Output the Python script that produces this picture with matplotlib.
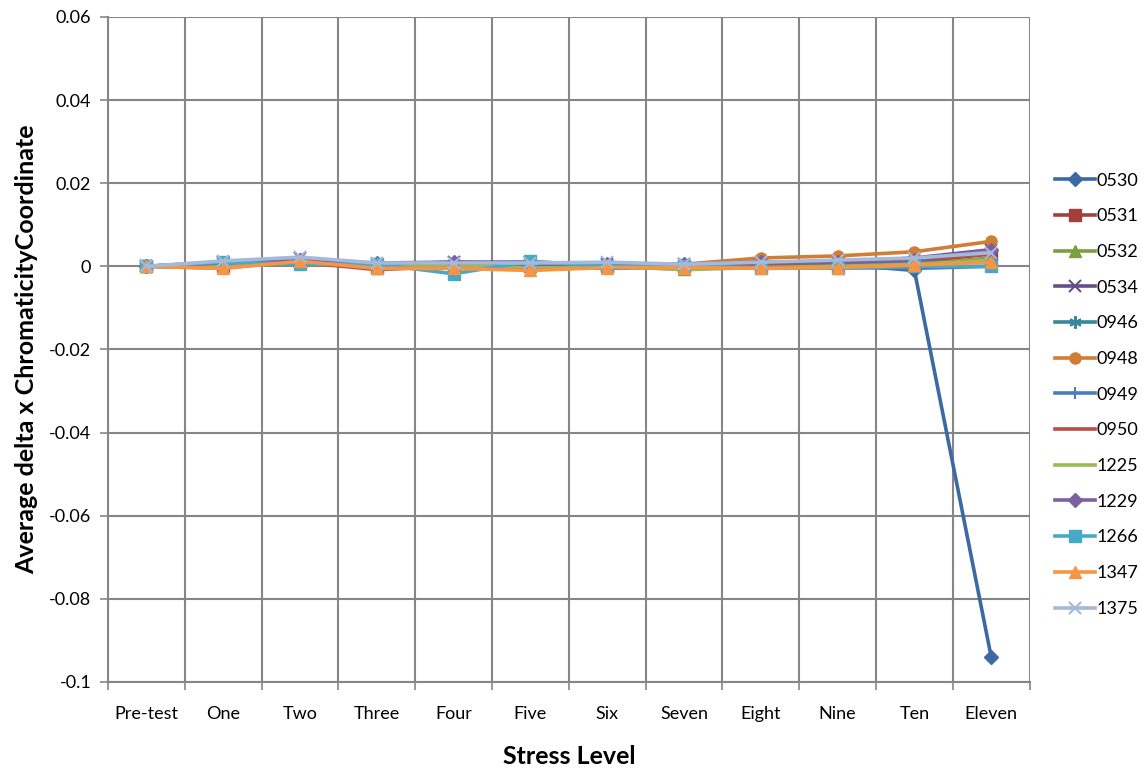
import matplotlib.pyplot as plt
from matplotlib.ticker import FixedLocator

plt.rcParams["font.family"] = ["Lato", "DejaVu Sans"]

levels = ["Pre-test", "One", "Two", "Three", "Four", "Five", "Six",
          "Seven", "Eight", "Nine", "Ten", "Eleven"]

s0530 = [0, 0.0005, 0.0015, 0, 0.0005, 0, 0, 0, 0, 0.0005, -0.001, -0.0940]
s0531 = [0, 0, 0.001, -0.0005, 0, 0, 0, 0, 0.0005, 0.001, 0.001, 0.003]
s0532 = [0, 0, 0.001, 0, 0, 0, 0, -0.0007, 0, 0.0005, 0.0005, 0.002]
s0534 = [0, 0.001, 0.002, 0.0005, 0.001, 0.001, 0.0005, 0.0005, 0.001, 0.001, 0.002, 0.004]
s0946 = [0, 0.001, 0.0015, 0.0005, 0.0005, 0.001, 0, 0, 0, 0, 0.001, 0.001]
s0948 = [0, -0.0005, 0.0015, -0.0003, 0, -0.0005, 0, 0.0005, 0.002, 0.0025, 0.0035, 0.006]
s0949 = [0, 0, 0.001, 0, 0, 0, -0.0005, -0.0002, -0.0005, -0.0003, -0.0005, 0]
s0950 = [0, 0, 0.001, -0.0008, 0, 0.0002, 0, 0.0005, 0.0005, 0.001, 0.0015, 0.003]
s1225 = [0, 0, 0.001, 0, 0, 0, 0, -0.0008, -0.0003, 0, 0.0005, 0.0015]
s1229 = [0, 0.0008, 0.0015, 0.0008, 0.001, 0.0005, 0.0005, 0.0005, 0.001, 0.001, 0.0015, 0.004]
s1266 = [0, 0.001, 0.0005, 0.0005, -0.0018, 0.0012, 0, 0, -0.0003, -0.0005, 0, 0]
s1347 = [0, -0.0005, 0.0012, -0.0005, -0.0005, -0.001, -0.0003, -0.0003, -0.0005, -0.0003, 0.0003, 0.001]
s1375 = [0, 0.0013, 0.0022, 0.0008, 0.0008, 0.0008, 0.001, 0.0005, 0.001, 0.0015, 0.002, 0.0033]

series = [
    ("0530", s0530, "#3C68A3", "D"),
    ("0531", s0531, "#A33F3C", "s"),
    ("0532", s0532, "#7D9E3F", "^"),
    ("0534", s0534, "#664E8A", "x"),
    ("0946", s0946, "#34889C", (6, 2, 0)),
    ("0948", s0948, "#D07D36", "o"),
    ("0949", s0949, "#4A7EBB", "|"),
    ("0950", s0950, "#BE4B48", None),
    ("1225", s1225, "#98B954", None),
    ("1229", s1229, "#7D60A0", "D"),
    ("1266", s1266, "#46AAC5", "s"),
    ("1347", s1347, "#F69545", "^"),
    ("1375", s1375, "#A5B9DA", "x"),
]

fig = plt.figure(figsize=(11.42, 7.68), dpi=100)
ax = fig.add_axes([0.0946, 0.112, 0.807, 0.866])

x = list(range(len(levels)))
for name, vals, color, marker in series:
    thin = marker in ("x", "|") or isinstance(marker, tuple)
    ms = 7 if marker == "D" else (9 if thin else 8)
    ax.plot(x, vals, color=color, lw=2.6, marker=marker, ms=ms,
            markeredgewidth=1.5 if thin else 1,
            markeredgecolor=color, label=name)

ax.set_xlim(-0.5, len(levels) - 0.5)
ax.set_ylim(-0.1, 0.06)
ax.set_yticks([-0.1, -0.08, -0.06, -0.04, -0.02, 0, 0.02, 0.04, 0.06])
ax.set_yticklabels(["-0.1", "-0.08", "-0.06", "-0.04", "-0.02", "0", "0.02", "0.04", "0.06"])
ax.set_xticks(x)
ax.set_xticklabels(levels)
ax.xaxis.set_minor_locator(FixedLocator([i - 0.5 for i in range(len(levels) + 1)]))

grid_c = "#868686"
ax.grid(True, axis="y", which="major", color=grid_c, lw=1.5)
ax.grid(True, axis="x", which="minor", color=grid_c, lw=1.5)
ax.set_axisbelow(True)
ax.tick_params(axis="x", which="major", length=0, pad=17, labelsize=13)
ax.tick_params(axis="x", which="minor", length=6, width=1.2, color=grid_c, direction="out")
ax.tick_params(axis="y", length=6, width=1.2, color=grid_c, direction="out", labelsize=13, pad=6)
for side in ("top", "right"):
    ax.spines[side].set_visible(False)
for side in ("left", "bottom"):
    ax.spines[side].set_color(grid_c)
    ax.spines[side].set_linewidth(1.5)

ax.set_xlabel("Stress Level", fontsize=18, fontweight="bold", labelpad=17)
ax.set_ylabel("Average delta x ChromaticityCoordinate", fontsize=18, fontweight="bold", labelpad=8)

ax.legend(loc="center left", bbox_to_anchor=(0.91, 0.486), bbox_transform=fig.transFigure,
          frameon=False, fontsize=13, handlelength=2.2, labelspacing=1.09, handletextpad=0.1)

plt.savefig("out.png", dpi=100)
